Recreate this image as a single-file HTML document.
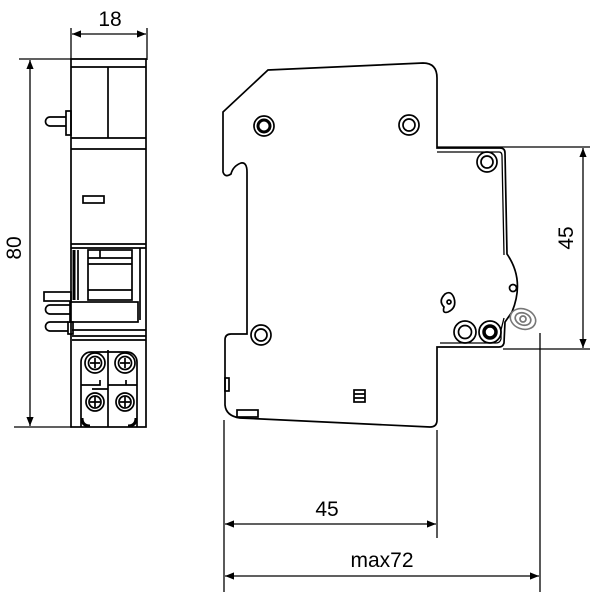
<!DOCTYPE html>
<html><head><meta charset="utf-8"><style>html,body{margin:0;padding:0;background:#fff}svg{display:block}</style></head>
<body>
<svg width="600" height="600" viewBox="0 0 600 600" xmlns="http://www.w3.org/2000/svg" font-family="Liberation Sans, sans-serif">
<defs>
<marker id="a" viewBox="0 0 10 10" refX="10" refY="5" markerWidth="11" markerHeight="9" orient="auto-start-reverse" markerUnits="userSpaceOnUse"><path d="M0,1 L10,5 L0,9 z" fill="#000"/></marker>
</defs>
<g fill="none" stroke="#000" stroke-width="1.7">
<!-- LEFT VIEW dimensions -->
<line x1="71" y1="28" x2="71" y2="60" stroke-width="1.3"/>
<line x1="147" y1="28" x2="147" y2="60" stroke-width="1.3"/>
<line x1="72" y1="34" x2="146" y2="34" stroke-width="1.3" marker-start="url(#a)" marker-end="url(#a)"/>
<line x1="19" y1="59" x2="147" y2="59" stroke-width="1.3"/>
<line x1="14" y1="427" x2="72" y2="427" stroke-width="1.3"/>
<line x1="30" y1="60" x2="30" y2="426" stroke-width="1.3" marker-start="url(#a)" marker-end="url(#a)"/>
<!-- left body -->
<rect x="71" y="59" width="75" height="368"/>
<line x1="71" y1="67" x2="146" y2="67"/>
<line x1="108" y1="67" x2="108" y2="138"/>
<line x1="71" y1="138" x2="146" y2="138"/>
<line x1="71" y1="149" x2="146" y2="149"/>
<rect x="83" y="196" width="21" height="7"/>
<line x1="71" y1="244" x2="146" y2="244"/>
<line x1="71" y1="248" x2="146" y2="248"/>
<!-- knob -->
<rect x="66" y="111" width="5" height="24"/>
<path d="M66,117 H50 a4,4 0 0 0 0,9 H66"/>
<!-- mid mechanism -->
<line x1="74" y1="250" x2="74" y2="300" stroke-width="3"/>
<line x1="78" y1="250" x2="78" y2="300"/>
<rect x="88" y="250" width="44" height="50"/>
<line x1="88" y1="258" x2="132" y2="258"/>
<line x1="88" y1="264" x2="132" y2="264"/>
<line x1="88" y1="290" x2="132" y2="290"/>
<line x1="100" y1="250" x2="100" y2="258"/>
<line x1="140" y1="248" x2="140" y2="320"/>
<rect x="44" y="292" width="27" height="9"/>
<rect x="70" y="302" width="68" height="20"/>
<path d="M70,305 H50 a4,4 0 0 0 0,9 H70"/>
<path d="M68,322 H50 a4,4 0 0 0 0,9 H68"/>
<rect x="68" y="322" width="5" height="12"/>
<line x1="72" y1="330" x2="146" y2="330"/>
<line x1="72" y1="336" x2="146" y2="336"/>
<line x1="72" y1="340" x2="146" y2="340"/>
<!-- terminals -->
<line x1="108" y1="350" x2="108" y2="427"/>
<path d="M81,427 V362 a10,10 0 0 1 10,-10 H108"/>
<path d="M137,427 V362 a10,10 0 0 0 -10,-10 H108"/>
<circle cx="95" cy="363" r="10"/><circle cx="95" cy="363" r="6.5"/>
<circle cx="125" cy="363" r="10"/><circle cx="125" cy="363" r="6.5"/>
<path d="M90,363 h10 M95,358 v10 M120,363 h10 M125,358 v10"/>
<path d="M81,385 H100 V380 M108,389 H92 M108,385 H126 V380 M137,385 H118"/>
<circle cx="95" cy="402" r="9"/><circle cx="95" cy="402" r="6"/>
<circle cx="125" cy="402" r="9"/><circle cx="125" cy="402" r="6"/>
<path d="M90,402 h10 M95,397 v10 M120,402 h10 M125,397 v10"/>
<path d="M82,418 q0,8 8,8 M136,418 q0,8 -8,8" stroke-width="3"/>

<!-- RIGHT VIEW outline -->
<path d="M268,70 L423,63 Q437,63 437,78 V148 H500 Q505,148 505,153 L507,254 Q525,280 512,312 L505,322 L504,343 Q503,347 499,347 H437 V420 Q437,427 430,427 L240,418 Q226,416 225,405 V340 Q225,334 231,334 H247 V172 Q247,162 241,163 Q233,166 231,174 Q225,178 223,172 V112 Z"/>
<path d="M437,152 H499 Q502,152 502,156 L504,255 M504,318 L501,330 L501,339 Q500,343 496,343 H440" stroke-width="1.3"/>
<circle cx="513" cy="288" r="3.5"/>
<ellipse cx="523" cy="319" rx="13" ry="10" stroke="#777" stroke-width="1.6" transform="rotate(20 523 319)"/>
<ellipse cx="523" cy="319" rx="8" ry="6" stroke="#777" transform="rotate(20 523 319)"/>
<circle cx="523" cy="319" r="3" stroke="#777"/>
<!-- screws -->
<circle cx="264" cy="126" r="10"/><circle cx="264" cy="126" r="6" stroke-width="3"/>
<circle cx="409" cy="125" r="10"/><circle cx="409" cy="125" r="6"/>
<circle cx="487" cy="162" r="10"/><circle cx="487" cy="162" r="6"/>
<circle cx="261" cy="335" r="10"/><circle cx="261" cy="335" r="6"/>
<circle cx="465" cy="332" r="11"/><circle cx="465" cy="332" r="6.5"/>
<circle cx="490" cy="332" r="11"/><circle cx="490" cy="332" r="6" stroke-width="3.5"/>
<path d="M445,294 q6,-4 9,4 q3,10 -6,14 q-6,2 -4,-5 q-6,-6 1,-13 z"/>
<circle cx="449" cy="302" r="2"/>
<rect x="354" y="390" width="11" height="12"/>
<path d="M354,394 h11 M354,398 h11"/>
<rect x="225" y="378" width="4" height="13"/>
<rect x="237" y="410" width="21" height="7"/>
<!-- right dims -->
<g stroke-width="1.3">
<line x1="437" y1="147" x2="590" y2="147"/>
<line x1="503" y1="349" x2="590" y2="349"/>
<line x1="583" y1="148" x2="583" y2="348" marker-start="url(#a)" marker-end="url(#a)"/>
<line x1="224" y1="420" x2="224" y2="592"/>
<line x1="437" y1="430" x2="437" y2="538"/>
<line x1="540" y1="333" x2="540" y2="592"/>
<line x1="225" y1="524" x2="436" y2="524" marker-start="url(#a)" marker-end="url(#a)"/>
<line x1="225" y1="576" x2="539" y2="576" marker-start="url(#a)" marker-end="url(#a)"/>
</g>
</g>
<g font-size="21" fill="#000" text-anchor="middle">
<text x="110" y="26">18</text>
<text transform="translate(21,248) rotate(-90)">80</text>
<text transform="translate(573,238) rotate(-90)">45</text>
<text x="327" y="516">45</text>
<text x="382" y="567">max72</text>
</g>
</svg>
</body></html>
